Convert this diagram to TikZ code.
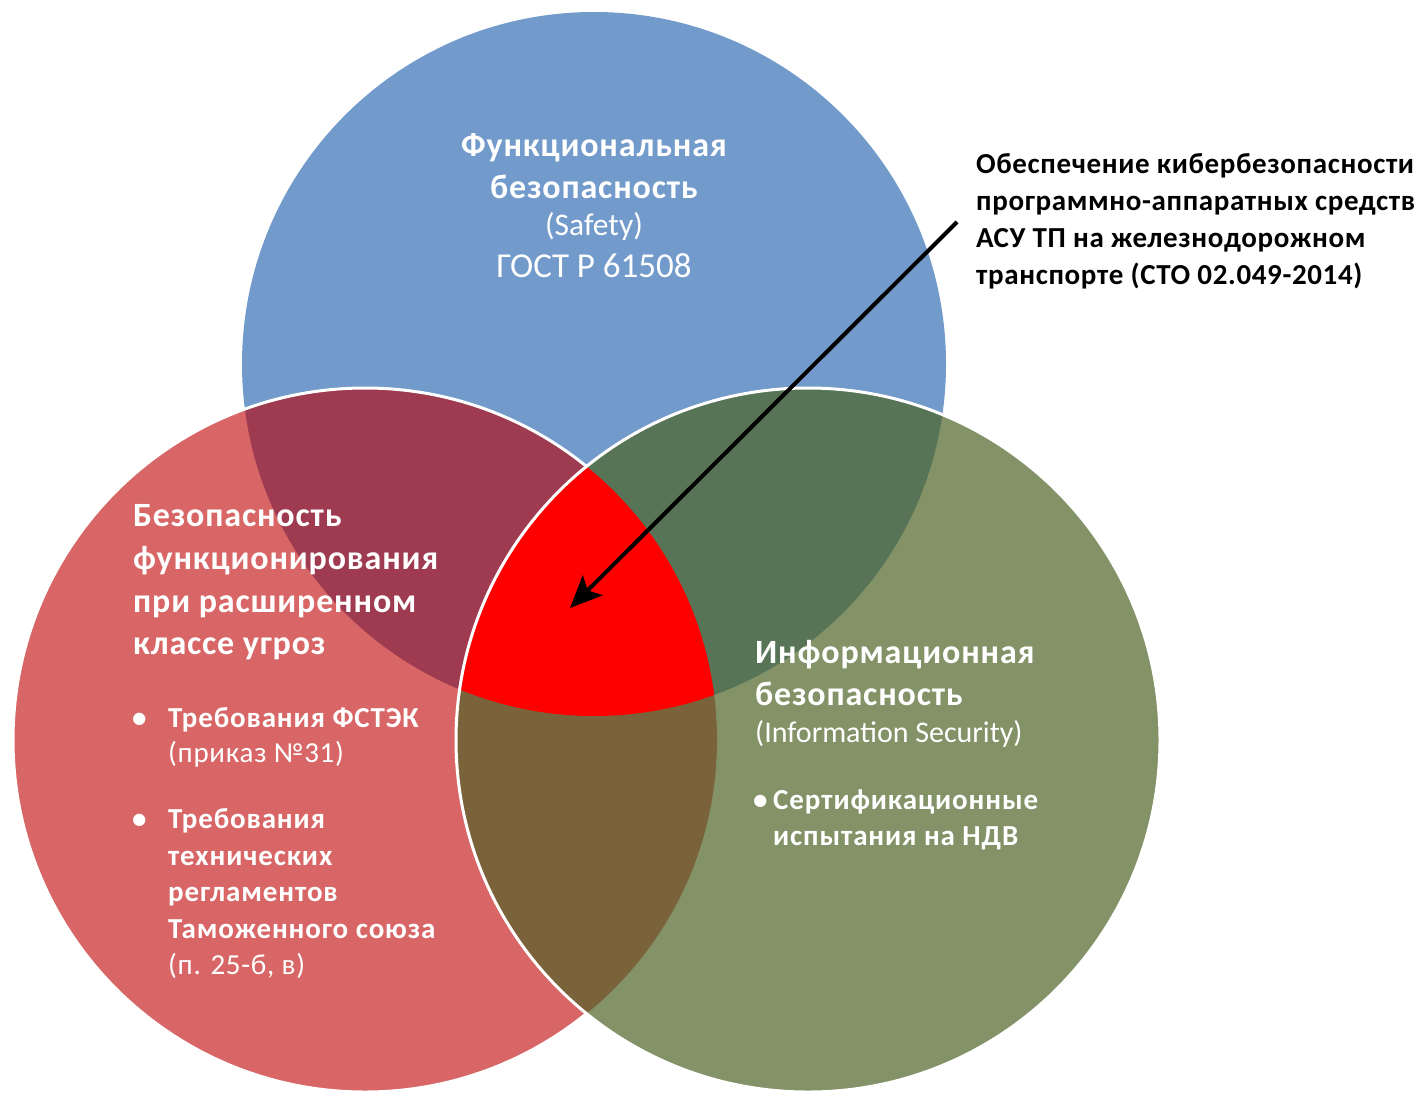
\documentclass[tikz,border=0pt]{standalone}
\usepackage{fontspec}
\setmainfont{Carlito}
\usetikzlibrary{arrows.meta}
\definecolor{cblue}{HTML}{729ACB}
\definecolor{cred}{HTML}{D86666}
\definecolor{cgreen}{HTML}{839267}
\definecolor{cmaroon}{HTML}{9E3B50}
\definecolor{cdkgreen}{HTML}{587457}
\definecolor{cbrown}{HTML}{7A623B}
\definecolor{ccenter}{HTML}{FF0000}
\tikzset{
  ttl/.style={text=white, inner sep=0pt, font=\bfseries\fontsize{34}{34}\selectfont\addfontfeatures{LetterSpace=2.5}},
  sub/.style={text=white, inner sep=0pt, font=\fontsize{31.5}{31.5}\selectfont},
  eng/.style={text=white, inner sep=0pt, font=\fontsize{30}{30}\selectfont},
  gost/.style={text=white, inner sep=0pt, font=\fontsize{35}{35}\selectfont},
  bul/.style={text=white, inner sep=0pt, font=\bfseries\fontsize{29}{29}\selectfont\addfontfeatures{LetterSpace=3}},
  bulreg/.style={text=white, inner sep=0pt, font=\fontsize{29}{29}\selectfont\addfontfeatures{LetterSpace=2.5}},
  note/.style={text=black, inner sep=0pt, font=\bfseries\fontsize{29}{29}\selectfont\addfontfeatures{LetterSpace=2.2}},
  outline/.style={white, line width=3pt},
}
\begin{document}
\begin{tikzpicture}[x=1pt,y=-1pt]
\useasboundingbox (0,0) rectangle (1420,1092);
\coordinate (cB) at (594,364);
\coordinate (cR) at (365,740);
\coordinate (cG) at (808,740);
\def\rr{352pt}
% base circles
\fill[cblue] (cB) circle[radius=\rr];
\fill[cred] (cR) circle[radius=\rr];
\fill[cgreen] (cG) circle[radius=\rr];
% pairwise overlaps
\begin{scope}
  \clip (cB) circle[radius=\rr];
  \fill[cmaroon] (cR) circle[radius=\rr];
  \fill[cdkgreen] (cG) circle[radius=\rr];
\end{scope}
\begin{scope}
  \clip (cR) circle[radius=\rr];
  \fill[cbrown] (cG) circle[radius=\rr];
\end{scope}
% triple overlap
\begin{scope}
  \clip (cB) circle[radius=\rr];
  \clip (cR) circle[radius=\rr];
  \fill[ccenter] (cG) circle[radius=\rr];
\end{scope}
% white outlines
\begin{scope}[even odd rule]
  \clip (-20,-20) rectangle (1440,1110) (cG) circle[radius=\rr];
  \draw[outline] (cR) circle[radius=\rr];
\end{scope}
\draw[outline] (cG) circle[radius=\rr];

% top circle text
\node[ttl, anchor=base] (f1) at (594,156) {Функциональная};
\node[ttl, anchor=base] (f2) at (594,198) {безопасность};
\node[sub, anchor=base] (f3) at (594,235) {(Safety)};
\node[gost, anchor=base] (f4) at (594,277) {ГОСТ Р 61508};

% left circle text
\node[ttl, anchor=base west] (l1) at (133,526) {Безопасность};
\node[ttl, anchor=base west] (l2) at (133,569) {функционирования};
\node[ttl, anchor=base west] (l3) at (133,612) {при расширенном};
\node[ttl, anchor=base west] (l4) at (133,654) {классе угроз};
\node[bul, anchor=base west] (b1d) at (132,727) {•};
\node[bul, anchor=base west] (b1) at (168,727) {Требования ФСТЭК};
\node[bulreg, anchor=base west] (b1r) at (168,762) {(приказ №31)};
\node[bul, anchor=base west] (b2d) at (132,828) {•};
\node[bul, anchor=base west] (b2) at (168,828) {Требования};
\node[bul, anchor=base west] (b3) at (168,865) {технических};
\node[bul, anchor=base west] (b4) at (168,901) {регламентов};
\node[bul, anchor=base west] (b5) at (168,938) {Таможенного союза};
\node[bulreg, anchor=base west] (b6) at (168,974) {(п. 25-б, в)};

% right circle text
\node[ttl, anchor=base west] (g1) at (755,663) {Информационная};
\node[ttl, anchor=base west] (g2) at (755,705) {безопасность};
\node[eng, anchor=base west] (g3) at (755,742) {(Information Security)};
\node[bul, anchor=base west] (g4d) at (753,809) {•};
\node[bul, anchor=base west] (g4) at (773,809) {Сертификационные};
\node[bul, anchor=base west] (g5) at (773,845) {испытания на НДВ};

% annotation
\node[note, anchor=base west] (n1) at (976,173) {Обеспечение кибербезопасности};
\node[note, anchor=base west] (n2) at (976,210) {программно-аппаратных средств};
\node[note, anchor=base west] (n3) at (976,247) {АСУ ТП на железнодорожном};
\node[note, anchor=base west] (n4) at (976,284) {транспорте (СТО 02.049-2014)};

\coordinate (astart) at (957,222);
\coordinate (aend) at (570,608);
\draw[line width=4pt, -{Stealth[length=32pt,width=28pt,inset=7pt]}] (astart) -- (aend);
\end{tikzpicture}
\end{document}
